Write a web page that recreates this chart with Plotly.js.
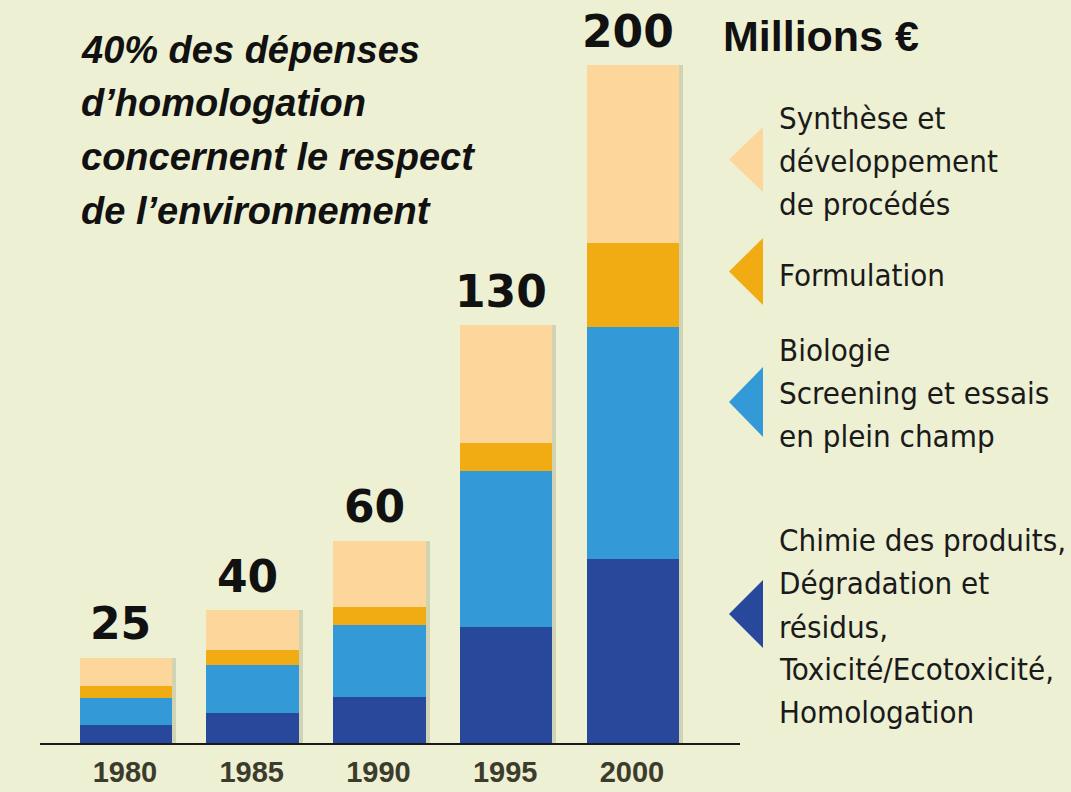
<!DOCTYPE html>
<html>
<head>
<meta charset="utf-8">
<script src="https://cdn.plot.ly/plotly-3.0.1.min.js"></script>
<style>html,body{margin:0;padding:0;background:#edf0d3;}</style>
</head>
<body>
<div id="chart" style="width:1071px;height:792px;"></div>
<script>
// ---- data (millions €) ----
const years = ["1980", "1985", "1990", "1995", "2000"];
const chimie = [5.3, 8.8, 13.6, 34.2, 54.3];       // Chimie des produits, Dégradation..., Homologation
const biologie = [8.0, 14.2, 21.2, 46.0, 68.4];    // Biologie Screening et essais en plein champ
const formulation = [3.5, 4.4, 5.3, 8.3, 24.8];    // Formulation
const synthese = [8.3, 11.8, 19.5, 34.8, 52.5];    // Synthèse et développement de procédés
const totalLabels = ["25", "40", "60", "130", "200"];

const seriesNames = [
  ["Chimie des produits,", "Dégradation et", "résidus,", "Toxicité/Ecotoxicité,", "Homologation"],
  ["Biologie", "Screening et essais", "en plein champ"],
  ["Formulation"],
  ["Synthèse et", "développement", "de procédés"]
];
const colors = ["#28489b", "#3499d7", "#f0ac12", "#fdd69c"];
const seriesVals = [chimie, biologie, formulation, synthese];

// ---- layout geometry helpers (pixel -> paper) ----
const W = 1071, H = 792, ML = 40, MR = 331, MT = 0, MB = 49;
const PW = W - ML - MR, PH = H - MT - MB;
const px = v => (v - ML) / PW;
const py = v => (H - MB - v) / PH;

const totals = years.map((_, i) => seriesVals.reduce((s, arr) => s + arr[i], 0));

const xr = [-0.678, 4.845];
const shadowShift = 4 / 126.75;

const traces = [];
// soft shadow behind the bars
traces.push({
  type: "bar", x: years, y: totals, xaxis: "x", yaxis: "y",
  marker: { color: "rgba(95,95,60,0.2)" }, hoverinfo: "skip", showlegend: false
});
seriesVals.forEach((vals, k) => {
  traces.push({
    type: "bar", x: years, y: vals, name: seriesNames[k].join(" "),
    xaxis: "x2", yaxis: "y",
    marker: { color: colors[k], line: { width: 0 } }, showlegend: false
  });
});

const annotations = [];
// totals above bars (category axis annotations use the category index)
years.forEach((yr, i) => {
  annotations.push({
    x: i, y: totals[i], xref: "x2", yref: "y", text: "<b>" + totalLabels[i] + "</b>",
    showarrow: false, yanchor: "middle", yshift: 34, xshift: -5,
    font: { family: "DejaVu Sans", size: 44, color: "#111" }
  });
});
// title lines
const titleLines = ["40% des dépenses", "d’homologation", "concernent le respect", "de l’environnement"];
const titleY = [50, 103, 157, 211];
titleLines.forEach((t, i) => {
  annotations.push({
    x: px(79), y: py(titleY[i]), xref: "paper", yref: "paper", text: "<b><i>" + t + "</i></b>",
    showarrow: false, xanchor: "left", yanchor: "middle",
    font: { family: "Liberation Sans, Arial, sans-serif", size: 38, color: "#111" }
  });
});
// unit
annotations.push({
  x: px(721), y: py(36), xref: "paper", yref: "paper", text: "<b>Millions €</b>",
  showarrow: false, xanchor: "left", yanchor: "middle",
  font: { family: "Liberation Sans, Arial, sans-serif", size: 43, color: "#111" }
});
// legend texts (one annotation per line) and triangle keys
const legendLineY = [
  [540, 583, 627, 669, 712],
  [350, 393, 436],
  [275],
  [118, 161, 204]
];
const triTop = [580, 367, 238, 127];
const triBot = [648, 437, 305, 192];
const shapes = [];
seriesNames.forEach((lines, k) => {
  lines.forEach((ln, j) => {
    annotations.push({
      x: px(777), y: py(legendLineY[k][j]), xref: "paper", yref: "paper", text: ln,
      showarrow: false, xanchor: "left", yanchor: "middle", align: "left",
      font: { family: "DejaVu Sans Condensed, Liberation Sans Narrow, sans-serif", size: 31, color: "#1a1a1a" }
    });
  });
  const xl = px(729), xrr = px(763), yt = py(triTop[k]), yb = py(triBot[k]), ym = (yt + yb) / 2;
  shapes.push({
    type: "path", xref: "paper", yref: "paper",
    path: `M ${xrr} ${yt} L ${xl} ${ym} L ${xrr} ${yb} Z`,
    fillcolor: colors[k], line: { width: 0 }
  });
});

const layout = {
  width: W, height: H,
  margin: { l: ML, r: MR, t: MT, b: MB },
  paper_bgcolor: "#edf0d3", plot_bgcolor: "#edf0d3",
  barmode: "stack", bargap: 0.27,
  showlegend: false,
  xaxis: {
    type: "category", range: [xr[0] - shadowShift, xr[1] - shadowShift],
    showline: true, linecolor: "#1a1a1a", linewidth: 2,
    showgrid: false, zeroline: false, ticks: "", fixedrange: true,
    tickfont: { family: "Liberation Sans, Arial, sans-serif", size: 29, color: "#3c3c2c", weight: "bold" },
    ticklabelstandoff: 2, ticklabelshift: -5
  },
  xaxis2: {
    type: "category", overlaying: "x", range: xr, visible: false, fixedrange: true
  },
  yaxis: {
    range: [0, PH / 3.39], visible: false, showgrid: false, zeroline: false, fixedrange: true
  },
  annotations: annotations,
  shapes: shapes,
  font: { family: "Liberation Sans, Arial, sans-serif" }
};

Plotly.newPlot("chart", traces, layout, { displayModeBar: false, staticPlot: true });
</script>
</body>
</html>
